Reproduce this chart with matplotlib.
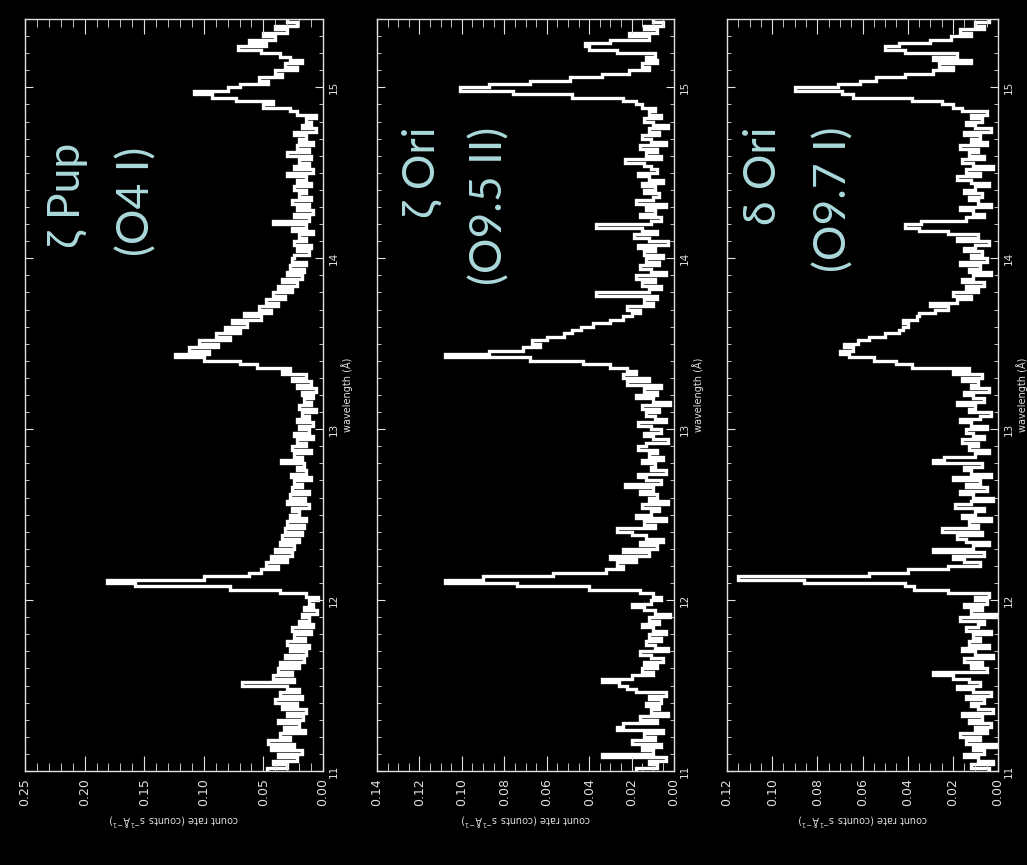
import numpy as np
import matplotlib.pyplot as plt
from matplotlib.ticker import MultipleLocator, FormatStrFormatter

W, H = 1027, 865

# count rates, in units of 1e-3 counts s^-1 A^-1,
# 0.02 A bins from 11.00 to 15.40 A (10 bins per row = 0.2 A)
zeta_pup = np.array([
    47, 30, 42, 22, 38, 18, 44, 24, 46, 28,
    36, 15, 33, 20, 38, 17, 30, 14, 34, 22,
    40, 18, 36, 20, 30, 68, 24, 42, 26, 38,
    20, 36, 16, 32, 14, 28, 12, 30, 15, 24,
    10, 26, 8, 20, 12, 18, 5, 16, 8, 12,
    4, 14, 36, 78, 158, 181, 100, 62, 52, 38,
    48, 30, 44, 26, 40, 24, 36, 20, 34, 18,
    32, 16, 30, 14, 28, 20, 26, 12, 30, 15,
    28, 12, 26, 18, 24, 10, 27, 14, 22, 16,
    35, 18, 24, 10, 26, 14, 22, 8, 24, 12,
    20, 8, 22, 12, 18, 6, 20, 10, 16, 8,
    18, 6, 22, 10, 26, 14, 34, 28, 55, 70,
    100, 124, 96, 112, 88, 104, 78, 90, 70, 82,
    64, 76, 52, 66, 44, 54, 38, 48, 32, 42,
    26, 38, 22, 34, 18, 30, 16, 28, 14, 26,
    24, 12, 22, 10, 24, 14, 20, 8, 26, 14,
    42, 12, 24, 8, 22, 12, 26, 10, 20, 14,
    24, 10, 22, 14, 30, 8, 24, 12, 20, 10,
    30, 12, 22, 8, 20, 14, 24, 6, 18, 10,
    14, 6, 22, 28, 50, 42, 73, 93, 108, 80,
    70, 46, 54, 34, 40, 22, 32, 18, 28, 36,
    52, 71, 48, 62, 40, 50, 30, 40, 22, 30,
]) / 1000

zeta_ori = np.array([
    18, 8, 12, 4, 34, 10, 15, 6, 20, 9,
    14, 5, 27, 24, 8, 16, 3, 11, 7, 13,
    6, 12, 4, 18, 22, 26, 34, 20, 10, 15,
    8, 14, 5, 11, 16, 3, 9, 13, 6, 12,
    4, 10, 15, 7, 12, 2, 9, 14, 20, 11,
    6, 10, 16, 40, 74, 108, 90, 57, 32, 24,
    27, 18, 30, 12, 24, 8, 16, 5, 13, 20,
    27, 9, 14, 4, 18, 11, 7, 15, 3, 12,
    8, 16, 10, 23, 6, 13, 17, 4, 11, 9,
    15, 5, 12, 8, 17, 13, 3, 10, 14, 6,
    11, 17, 4, 9, 13, 7, 15, 2, 10, 18,
    8, 14, 6, 22, 12, 24, 18, 22, 30, 43,
    68, 108, 87, 71, 63, 67, 60, 52, 48, 44,
    38, 30, 24, 20, 16, 22, 10, 14, 8, 37,
    12, 6, 15, 9, 18, 4, 11, 16, 7, 13,
    5, 14, 9, 17, 3, 12, 19, 8, 15, 37,
    11, 6, 16, 9, 13, 4, 18, 10, 7, 14,
    9, 15, 5, 12, 17, 8, 11, 14, 23, 6,
    13, 8, 16, 4, 11, 15, 7, 12, 3, 10,
    14, 6, 12, 9, 15, 18, 24, 48, 76, 101,
    87, 68, 49, 34, 21, 12, 15, 8, 13, 9,
    27, 40, 42, 30, 12, 21, 8, 14, 5, 10,
]) / 1000

delta_ori = np.array([
    4, 12, 2, 9, 15, 6, 11, 1, 14, 8,
    17, 5, 10, 3, 13, 7, 16, 2, 9, 12,
    6, 14, 3, 11, 18, 8, 13, 20, 29, 5,
    12, 7, 15, 2, 10, 16, 4, 13, 8, 11,
    3, 14, 9, 6, 17, 1, 12, 7, 15, 5,
    10, 4, 22, 37, 41, 86, 115, 57, 40, 22,
    8, 15, 20, 6, 29, 11, 4, 14, 18, 7,
    25, 9, 13, 3, 16, 10, 6, 19, 12, 2,
    11, 17, 5, 14, 8, 20, 3, 12, 15, 7,
    29, 24, 10, 4, 13, 9, 16, 6, 11, 14,
    5, 12, 17, 8, 3, 13, 10, 18, 6, 11,
    15, 4, 12, 9, 16, 7, 20, 13, 38, 45,
    55, 66, 70, 64, 68, 62, 57, 50, 44, 42,
    40, 42, 36, 35, 28, 22, 30, 18, 12, 20,
    9, 14, 6, 16, 11, 3, 13, 8, 17, 5,
    12, 7, 15, 10, 4, 18, 9, 22, 35, 41,
    34, 14, 6, 11, 17, 3, 9, 13, 7, 15,
    10, 4, 12, 18, 8, 14, 2, 11, 16, 6,
    13, 9, 17, 5, 12, 8, 15, 3, 10, 14,
    7, 12, 5, 16, 20, 25, 38, 64, 69, 90,
    71, 61, 54, 41, 29, 20, 26, 12, 29, 18,
    41, 50, 44, 30, 21, 12, 17, 6, 10, 4,
]) / 1000

star_names = ['\u03b6 Pup', '\u03b6 Ori', '\u03b4 Ori']
spectral_types = ['(O4 I)', '(O9.5 II)', '(O9.7 I)']
rate_max = [0.25, 0.14, 0.12]
rate_major = [0.05, 0.02, 0.02]
rate_minor = [0.01, 0.005, 0.005]
spectra = [zeta_pup, zeta_ori, delta_ori]

# panel frames in pixels (left, right), shared top/bottom
frames = [(25, 323), (377, 674), (727, 998)]
top, bottom = 19, 771
# label positions (centre x, top y) in pixels
name_pos = [(68, 143), (422, 127), (763, 127)]
type_pos = [(137, 147), (490, 127), (834, 127)]

cyan = '#acdadc'
fg = '#e0e0e0'
label_font = ['Lato', 'Open Sans', 'DejaVu Sans']

fig = plt.figure(figsize=(W / 100, H / 100), dpi=100, facecolor='black')

for i, vals in enumerate(spectra):
    l, r = frames[i]
    ax = fig.add_axes([l / W, 1 - bottom / H, (r - l) / W, (bottom - top) / H])
    ax.set_facecolor('black')
    edges = np.linspace(11.0, 15.4, len(vals) + 1)
    ax.stairs(vals, edges, orientation='horizontal', baseline=None,
              color='white', lw=2.4)

    ax.set_xlim(rate_max[i], 0)
    ax.set_ylim(11.0, 15.4)
    ax.xaxis.set_major_locator(MultipleLocator(rate_major[i]))
    ax.xaxis.set_minor_locator(MultipleLocator(rate_minor[i]))
    ax.xaxis.set_major_formatter(FormatStrFormatter('%.2f'))
    ax.yaxis.set_major_locator(MultipleLocator(1))
    ax.yaxis.set_minor_locator(MultipleLocator(0.1))
    ax.yaxis.set_major_formatter(FormatStrFormatter('%d'))

    for sp in ax.spines.values():
        sp.set_color(fg)
        sp.set_linewidth(1)
    ax.tick_params(axis='x', which='both', direction='in', top=True, bottom=True,
                   colors=fg, labelsize=9, labelrotation=90, pad=5)
    ax.tick_params(axis='x', which='major', length=11)
    ax.tick_params(axis='x', which='minor', length=6)
    ax.tick_params(axis='y', which='both', direction='in', left=True, right=True,
                   labelleft=False, labelright=True, colors=fg, labelsize=7.5,
                   labelrotation=90, pad=4)
    ax.tick_params(axis='y', which='major', length=6)
    ax.tick_params(axis='y', which='minor', length=3)
    for lbl in ax.get_yticklabels():
        lbl.set_va('center')

    ax.set_xlabel('count rate (counts s$^{-1}$\u00c5$^{-1}$)', color=fg,
                  fontsize=7, rotation=180, labelpad=5)
    ax.yaxis.set_label_position('right')
    ax.set_ylabel('wavelength (\u00c5)', color=fg, fontsize=7, rotation=90,
                  labelpad=2)

    nx, ny = name_pos[i]
    tx, ty = type_pos[i]
    fig.text(nx / W, 1 - ny / H, star_names[i], rotation=90, ha='center',
             va='top', color=cyan, fontsize=32, family=label_font)
    fig.text(tx / W, 1 - ty / H, spectral_types[i], rotation=90, ha='center',
             va='top', color=cyan, fontsize=32, family=label_font)

fig.savefig('out.png', dpi=100, facecolor='black')
